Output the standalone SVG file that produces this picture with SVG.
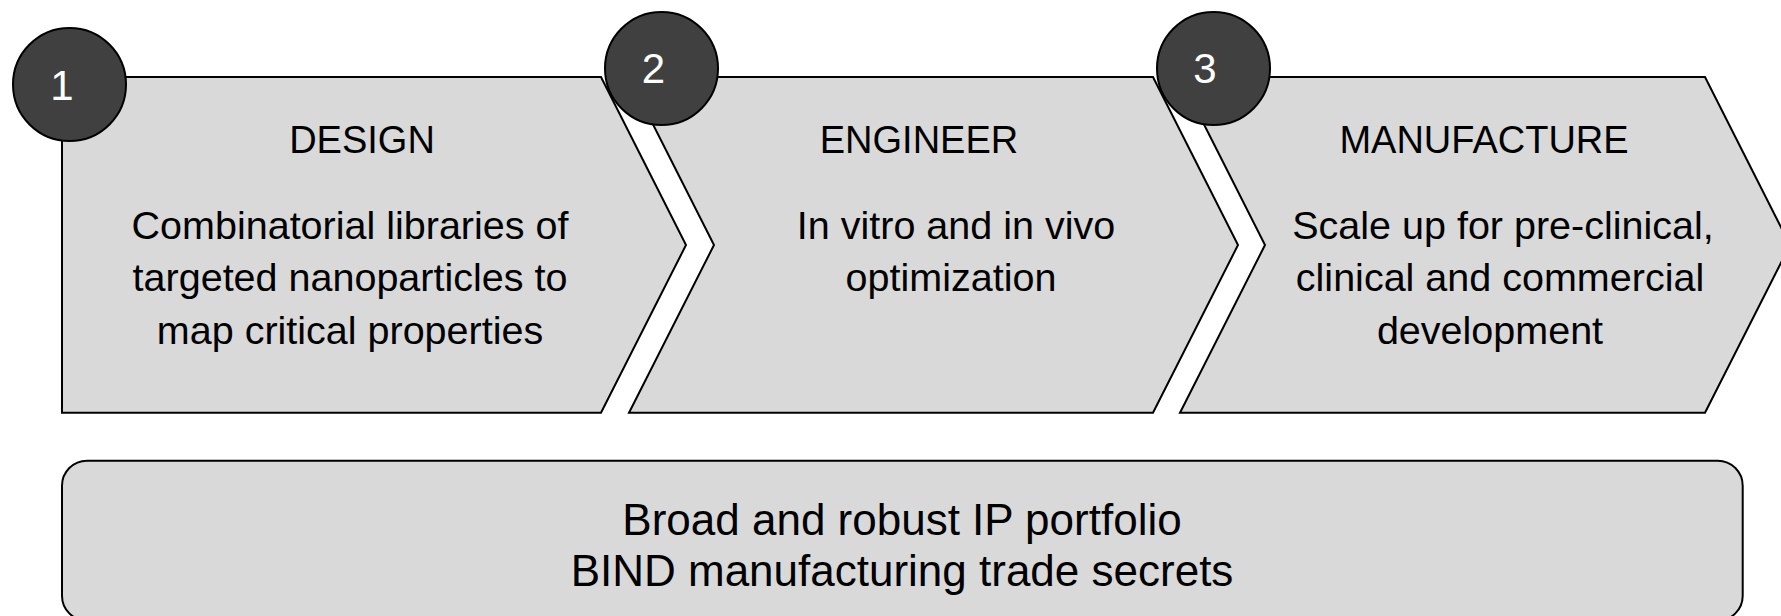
<svg xmlns="http://www.w3.org/2000/svg" width="1781" height="616" viewBox="0 0 1781 616">
  <style>
    .step { fill: #d9d9d9; stroke: #000; stroke-width: 2; stroke-linejoin: miter; }
    .badge { fill: #404040; stroke: #000; stroke-width: 2; }
    .num { font-family: "Liberation Sans", Arial, sans-serif; font-size: 42px; fill: #fff; text-anchor: middle; }
    .title { font-family: "Liberation Sans", Arial, sans-serif; font-size: 38px; fill: #000; text-anchor: middle; }
    .body { font-family: "Liberation Sans", Arial, sans-serif; font-size: 39.5px; fill: #000; text-anchor: middle; }
    .foot { font-family: "Liberation Sans", Arial, sans-serif; font-size: 44px; fill: #000; text-anchor: middle; }
  </style>
  <rect width="1781" height="616" fill="#fff"/>

  <!-- process steps -->
  <g id="step-design">
    <polygon class="step" points="62,77 601,77 686,245 601,412.7 62,412.7"/>
    <text class="title" x="362" y="153.3">DESIGN</text>
    <text class="body" x="350" y="238.5">Combinatorial libraries of</text>
    <text class="body" x="350" y="291">targeted nanoparticles to</text>
    <text class="body" x="350" y="343.5">map critical properties</text>
  </g>

  <g id="step-engineer">
    <polygon class="step" points="629,77 1153,77 1238,245 1153,412.7 629,412.7 714,245"/>
    <text class="title" x="919" y="153.3">ENGINEER</text>
    <text class="body" x="956" y="239.3">In vitro and in vivo</text>
    <text class="body" x="951" y="291">optimization</text>
  </g>

  <g id="step-manufacture">
    <polygon class="step" points="1180,77 1705,77 1790,245 1705,412.7 1180,412.7 1265,245"/>
    <text class="title" x="1484" y="153.3">MANUFACTURE</text>
    <text class="body" x="1503" y="238.5">Scale up for pre-clinical,</text>
    <text class="body" x="1500" y="291">clinical and commercial</text>
    <text class="body" x="1490" y="343.5">development</text>
  </g>

  <!-- step numbers -->
  <g id="badge-1">
    <circle class="badge" cx="69.5" cy="84.5" r="56.5"/>
    <text class="num" x="62" y="100">1</text>
  </g>
  <g id="badge-2">
    <circle class="badge" cx="661.5" cy="68.5" r="56.5"/>
    <text class="num" x="653.5" y="83">2</text>
  </g>
  <g id="badge-3">
    <circle class="badge" cx="1213.5" cy="68.5" r="56.5"/>
    <text class="num" x="1205" y="83">3</text>
  </g>

  <!-- foundation bar -->
  <g id="foundation">
    <rect class="step" x="62" y="460.7" width="1680.7" height="160" rx="25" ry="25"/>
    <text class="foot" x="902" y="535">Broad and robust IP portfolio</text>
    <text class="foot" x="902" y="586">BIND manufacturing trade secrets</text>
  </g>

  <g id="connectors"/>
</svg>
